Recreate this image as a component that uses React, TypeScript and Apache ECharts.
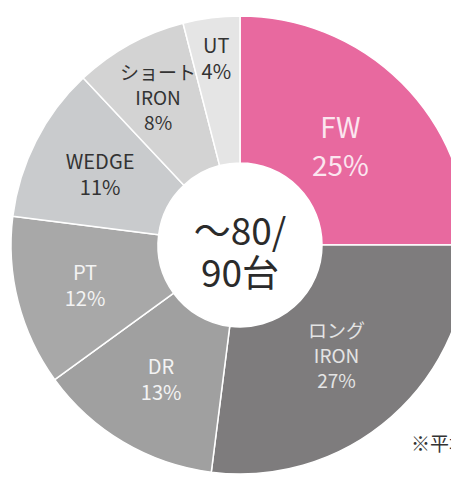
import React, { useEffect, useRef } from "react";
import * as echarts from "echarts";

const categories = ["FW", "ロング\nIRON", "DR", "PT", "WEDGE", "ショート\nIRON", "UT"];
const values = [25, 27, 13, 12, 11, 8, 4];
const centerLines = ["〜80/", "90台"];
const noteText = "※平均";

const sliceColors = ["#e8699f", "#7e7c7d", "#a0a0a0", "#a8a8a8", "#c9cbcd", "#d3d3d3", "#e5e5e5"];
const labelColors = ["#fbe6ef", "#e4e4e4", "#f3f3f3", "#f3f3f3", "#333333", "#333333", "#333333"];
const labelRadii = [142, 146, 155, 160, 157, 170, 189];
const labelSizes = [28, 19, 20, 20, 20, 19, 20];
const labelLineHeights = [38, 25, 26, 26, 26, 25, 26];

const CX = 240;
const CY = 245;
const FONT = '"Noto Sans CJK JP", "Noto Sans", sans-serif';

export default function App() {
  const ref = useRef<HTMLDivElement>(null);
  useEffect(() => {
    if (!ref.current) return;
    const chart = echarts.init(ref.current, null, { renderer: "svg" });
    const total = values.reduce((a, b) => a + b, 0);
    const mids: number[] = [];
    let acc = 0;
    values.forEach((v) => {
      mids.push(((acc + v / 2) / total) * Math.PI * 2);
      acc += v;
    });
    chart.setOption({
      animation: false,
      backgroundColor: "#ffffff",
      series: [
        {
          type: "pie",
          center: [CX, CY],
          radius: [82, 229],
          startAngle: 90,
          clockwise: true,
          avoidLabelOverlap: false,
          itemStyle: { borderColor: "#ffffff", borderWidth: 1.5 },
          label: {
            show: true,
            position: "inside",
            formatter: "{b}\n{c}%",
            fontFamily: FONT,
            fontSize: 20,
            lineHeight: 26,
            align: "center",
          },
          labelLine: { show: false },
          emphasis: { disabled: true },
          labelLayout: (params: any) => {
            const i = params.dataIndex;
            const a = mids[i];
            const r = labelRadii[i];
            return {
              x: CX + r * Math.sin(a),
              y: CY - r * Math.cos(a),
              align: "center",
              verticalAlign: "middle",
            };
          },
          data: categories.map((name, i) => ({
            name,
            value: values[i],
            itemStyle: { color: sliceColors[i] },
            label: {
              color: labelColors[i],
              fontSize: labelSizes[i],
              lineHeight: labelLineHeights[i],
            },
          })),
        },
      ],
      graphic: [
        {
          type: "text",
          x: CX,
          y: CY + 5,
          style: {
            text: centerLines.join("\n"),
            fontFamily: FONT,
            fontSize: 37,
            lineHeight: 42,
            fill: "#2b2b2b",
            align: "center",
            verticalAlign: "middle",
          },
        },
        {
          type: "text",
          x: 411,
          y: 442,
          style: {
            text: noteText,
            fontFamily: FONT,
            fontSize: 19,
            fill: "#333333",
            align: "left",
            verticalAlign: "middle",
          },
        },
      ],
    });
    return () => chart.dispose();
  }, []);
  return (
    <div
      ref={ref}
      style={{ position: "absolute", left: 0, top: 0, width: 451, height: 478 }}
    />
  );
}
